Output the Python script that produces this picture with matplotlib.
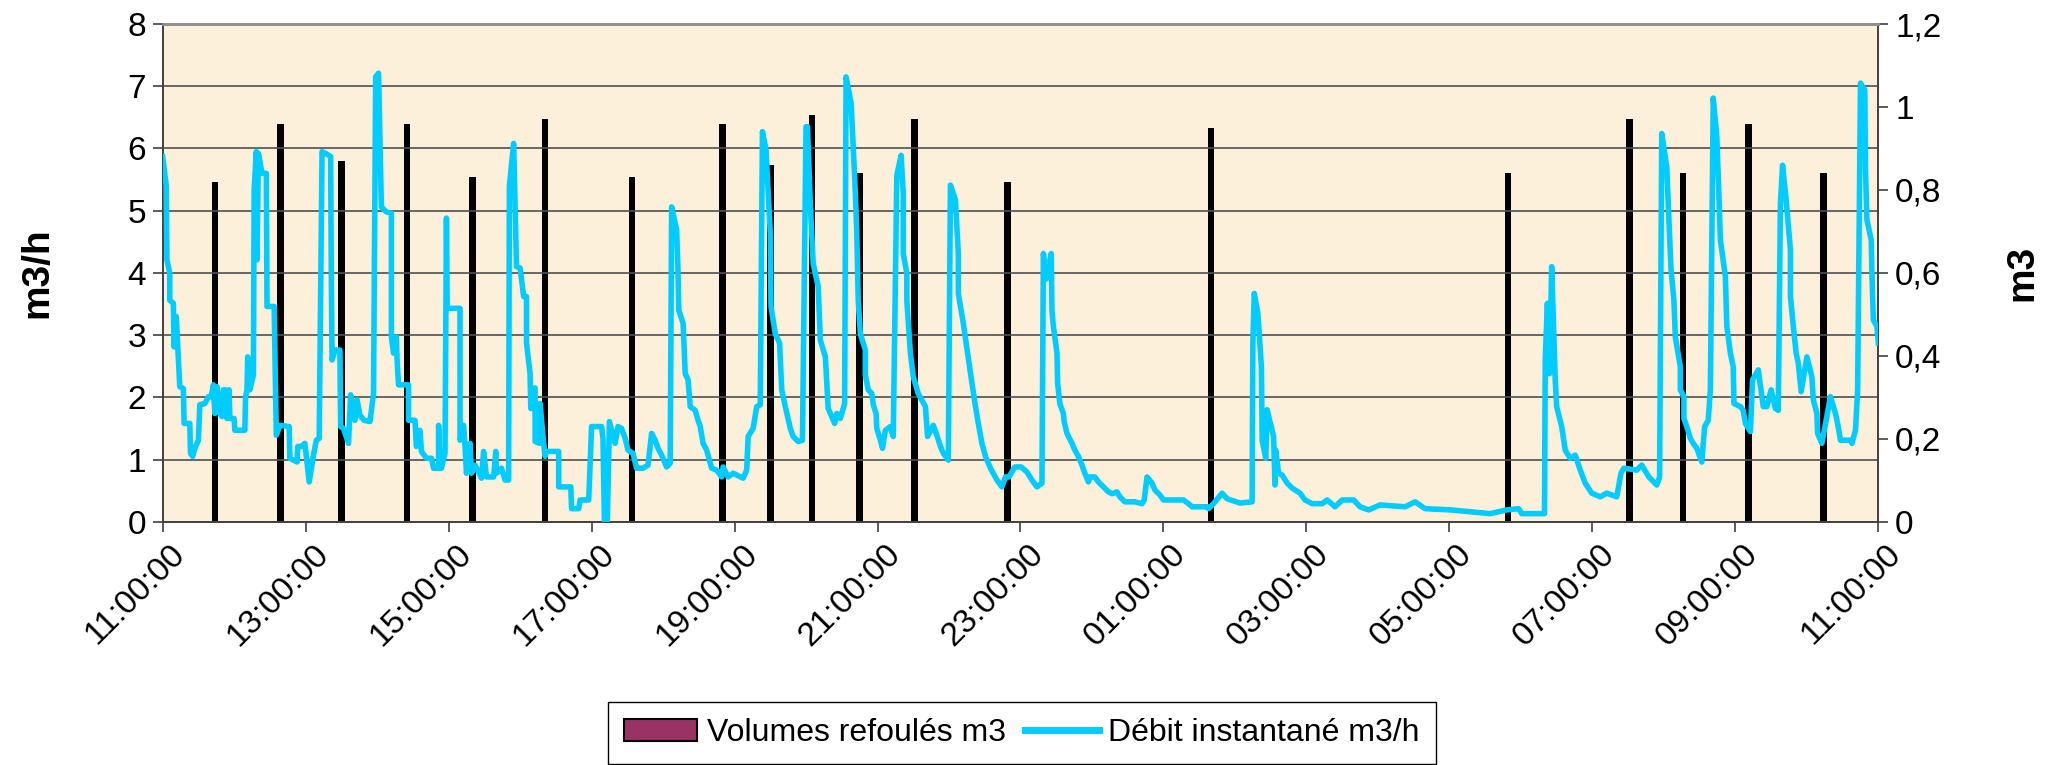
import numpy as np
import pandas as pd
import matplotlib
matplotlib.use('Agg')
import matplotlib.pyplot as plt
import matplotlib.dates as mdates
import matplotlib.transforms as mtransforms
from matplotlib.patches import Patch
from matplotlib.lines import Line2D

# Volumes pumped (m3), one bar per pump cycle
vol_times = ['11:44', '12:39', '13:30', '14:25', '15:20', '16:21', '17:34', '18:50',
             '19:30', '20:05', '20:45', '21:31', '22:49', '01:40', '05:49', '07:31',
             '08:16', '09:11', '10:14']
vol_m3 = [0.82, 0.96, 0.87, 0.96, 0.83, 0.97, 0.83, 0.96,
          0.86, 0.98, 0.84, 0.97, 0.82, 0.95, 0.84, 0.97,
          0.84, 0.96, 0.84]

# Instantaneous flow (m3/h), time in hours after 11:00
debit_t = [
    0.00, 0.05, 0.06, 0.10, 0.10, 0.15, 0.16, 0.19, 0.24, 0.29, 0.30, 0.38, 0.39, 0.42,
    0.45, 0.50, 0.52, 0.59, 0.64, 0.68, 0.71, 0.73, 0.76, 0.80, 0.83, 0.85, 0.88, 0.90,
    0.93, 0.94, 1.00, 1.01, 1.15, 1.16, 1.18, 1.19, 1.22, 1.27, 1.28, 1.31, 1.32, 1.34,
    1.39, 1.45, 1.46, 1.56, 1.59, 1.64, 1.77, 1.78, 1.88, 1.89, 1.94, 1.99, 2.05, 2.11,
    2.15, 2.19, 2.23, 2.28, 2.35, 2.36, 2.37, 2.41, 2.48, 2.49, 2.53, 2.60, 2.63, 2.69,
    2.72, 2.76, 2.82, 2.90, 2.95, 2.98,
    3.02, 3.06, 3.13, 3.20, 3.20, 3.23, 3.27, 3.28, 3.30, 3.44, 3.44, 3.53, 3.55, 3.60,
    3.62, 3.69, 3.76, 3.79, 3.86, 3.86, 3.88, 3.90, 3.95, 3.97, 3.98, 4.16, 4.16, 4.21,
    4.23, 4.25, 4.30, 4.32, 4.37, 4.46, 4.49, 4.53, 4.63, 4.66, 4.67, 4.74, 4.79, 4.84,
    4.85, 4.91, 4.95, 5.00, 5.05, 5.09, 5.09, 5.14, 5.15, 5.16, 5.21, 5.21, 5.27, 5.28,
    5.33, 5.35, 5.37, 5.54, 5.54, 5.71, 5.72, 5.82, 5.84, 5.96,
    6.00, 6.14, 6.16, 6.18, 6.22, 6.25, 6.33, 6.37, 6.42, 6.47, 6.51, 6.58, 6.63, 6.72,
    6.79, 6.84, 6.89, 6.93, 6.98, 7.05, 7.10, 7.12, 7.19, 7.21, 7.22, 7.28, 7.31, 7.35,
    7.38, 7.45, 7.49, 7.52, 7.56, 7.61, 7.68, 7.75, 7.82, 7.84, 7.91, 7.98, 8.12, 8.17,
    8.19, 8.26, 8.31, 8.36, 8.39, 8.44, 8.50, 8.51, 8.57, 8.63, 8.66, 8.71, 8.78, 8.82,
    8.89, 8.95,
    9.00, 9.02, 9.06, 9.10, 9.17, 9.20, 9.27, 9.29, 9.31, 9.36, 9.40, 9.43, 9.48, 9.54,
    9.56, 9.63, 9.66, 9.69, 9.71, 9.73, 9.76, 9.83, 9.83, 9.87, 9.92, 9.94, 9.98, 9.99,
    10.04, 10.07, 10.11, 10.18, 10.22, 10.27, 10.33, 10.36, 10.36, 10.41, 10.41, 10.46,
    10.50, 10.57, 10.67, 10.70, 10.78, 10.83, 10.88, 10.92, 10.99, 11.02, 11.09, 11.13,
    11.13, 11.20, 11.26, 11.30, 11.37, 11.41, 11.46, 11.51, 11.58, 11.67, 11.74, 11.79,
    11.84, 11.92,
    12.01, 12.09, 12.16, 12.23, 12.30, 12.32, 12.36, 12.43, 12.44, 12.46, 12.51, 12.52,
    12.55, 12.60, 12.61, 12.65, 12.72, 12.76, 12.81, 12.86, 12.90, 12.95, 12.97, 13.04,
    13.09, 13.16, 13.23, 13.28, 13.35, 13.39, 13.46, 13.60, 13.70, 13.73, 13.77, 13.84,
    13.88, 13.95, 14.00, 14.28, 14.35, 14.40, 14.61, 14.63, 14.70, 14.82, 14.89,
    15.02, 15.07, 15.24, 15.25, 15.27, 15.32, 15.37, 15.38, 15.43, 15.45, 15.54, 15.56,
    15.57, 15.61, 15.66, 15.73, 15.80, 15.91, 15.98, 16.08, 16.22, 16.29, 16.40, 16.50,
    16.66, 16.75, 16.87, 17.03, 17.38, 17.52, 17.66,
    18.02, 18.57, 18.80, 18.97, 19.01, 19.33, 19.34, 19.37, 19.40, 19.43, 19.48, 19.50,
    19.57, 19.62, 19.69, 19.76, 19.83, 19.90, 19.99, 20.11, 20.20, 20.34, 20.40, 20.44,
    20.62, 20.69, 20.79, 20.90, 20.94, 20.97,
    21.04, 21.07, 21.10, 21.14, 21.16, 21.20, 21.23, 21.23, 21.28, 21.28, 21.32, 21.37,
    21.41, 21.46, 21.53, 21.57, 21.62, 21.65, 21.69, 21.74, 21.77, 21.79, 21.86, 21.88,
    21.93, 21.97, 21.98, 22.07, 22.11, 22.14, 22.21, 22.24, 22.32, 22.39, 22.44, 22.50,
    22.56, 22.60, 22.63, 22.66, 22.71, 22.77, 22.77, 22.81, 22.85, 22.88, 22.92, 23.00,
    23.07, 23.09, 23.14, 23.15, 23.21, 23.33, 23.40, 23.43, 23.47, 23.61, 23.63, 23.68,
    23.71, 23.75, 23.81, 23.82, 23.84, 23.90, 23.91, 23.93, 23.98, 24.00,
]
debit_v = [
    5.87, 5.41, 4.21, 3.99, 3.56, 3.51, 2.81, 3.30, 2.17, 2.14, 1.58, 1.58, 1.10, 1.05,
    1.18, 1.31, 1.88, 1.90, 2.01, 2.01, 2.20, 1.74, 2.17, 1.74, 1.69, 2.12, 2.12, 1.66,
    2.12, 1.66, 1.66, 1.47, 1.47, 2.01, 2.12, 2.65, 2.12, 2.36, 5.33, 5.95, 4.21, 5.92,
    5.60, 5.60, 3.46, 3.46, 1.39, 1.55, 1.53, 1.02, 0.96, 1.21, 1.21, 1.26, 0.64, 1.07,
    1.31, 1.34, 5.95, 5.92, 5.87, 3.94, 2.60, 2.76, 2.76, 1.53, 1.50, 1.26, 2.04, 1.63,
    1.96, 1.71, 1.63, 1.61, 2.06, 7.15,
    7.21, 5.06, 4.98, 4.96, 2.97, 2.71, 2.97, 2.58, 2.20, 2.20, 1.63, 1.63, 1.21, 1.47,
    1.13, 1.02, 1.02, 0.86, 0.86, 1.55, 0.86, 0.86, 1.10, 4.88, 3.43, 3.43, 1.31, 1.55,
    1.21, 0.78, 1.26, 0.78, 0.91, 0.70, 1.13, 0.72, 0.72, 1.13, 0.78, 0.86, 0.67, 0.67,
    5.39, 6.08, 4.10, 4.08, 3.62, 3.62, 2.87, 2.38, 1.82, 2.12, 2.15, 1.29, 1.26, 1.90,
    1.26, 1.05, 1.13, 1.13, 0.56, 0.56, 0.21, 0.21, 0.35, 0.35,
    1.53, 1.53, 1.34, 0.00, 0.00, 1.61, 1.26, 1.53, 1.50, 1.34, 1.15, 1.10, 0.86, 0.86,
    0.91, 1.42, 1.31, 1.18, 1.07, 0.88, 0.94, 5.06, 4.69, 3.99, 3.40, 3.19, 2.38, 2.28,
    1.85, 1.79, 1.63, 1.53, 1.26, 1.15, 0.86, 0.83, 0.72, 0.88, 0.72, 0.78, 0.70, 0.83,
    1.37, 1.50, 1.85, 1.88, 6.27, 5.98, 4.64, 3.46, 3.02, 2.87, 2.12, 1.85, 1.50, 1.37,
    1.29, 1.31,
    6.35, 6.35, 5.11, 4.15, 3.78, 2.92, 2.65, 2.22, 1.82, 1.69, 1.58, 1.74, 1.66, 1.90,
    7.15, 6.73, 6.03, 5.28, 4.64, 3.56, 3.02, 2.76, 2.36, 2.12, 2.06, 1.88, 1.74, 1.50,
    1.31, 1.18, 1.47, 1.53, 1.37, 5.57, 5.89, 5.28, 4.31, 3.99, 3.56, 2.71,
    2.33, 2.06, 1.85, 1.37, 1.55, 1.39, 1.21, 1.10, 0.99, 5.41, 5.17, 4.31,
    3.67, 3.19, 2.71, 2.39, 1.85, 1.58, 1.26, 1.05, 0.86, 0.67, 0.56, 0.72,
    0.72, 0.88,
    0.88, 0.80, 0.67, 0.56, 0.62, 4.31, 3.90, 4.31, 3.40, 3.14, 2.71, 2.22,
    1.90, 1.74, 1.61, 1.42, 1.26, 1.15, 1.05, 0.91, 0.78, 0.64, 0.72, 0.72,
    0.64, 0.56, 0.48, 0.45, 0.48, 0.40, 0.32, 0.32, 0.29, 0.35, 0.72, 0.62,
    0.51, 0.43, 0.35, 0.35, 0.29, 0.24, 0.24, 0.21, 0.29, 0.46, 0.37,
    0.32, 0.30, 0.32, 2.87, 3.67, 3.35, 2.49, 1.31, 1.02, 1.80, 1.37, 0.59,
    1.15, 0.78, 0.75, 0.62, 0.54, 0.46, 0.35, 0.29, 0.29, 0.35, 0.24, 0.35,
    0.35, 0.24, 0.19, 0.27, 0.24, 0.32, 0.21,
    0.19, 0.13, 0.19, 0.21, 0.13, 0.13, 2.60, 3.51, 2.38, 4.10, 2.28, 1.85,
    1.53, 1.15, 1.02, 1.07, 0.83, 0.62, 0.46, 0.40, 0.46, 0.40, 0.78, 0.86,
    0.83, 0.91, 0.72, 0.59, 0.72, 6.24,
    5.70, 4.85, 4.05, 3.56, 2.97, 2.70, 2.49, 2.12, 2.01, 1.66, 1.53, 1.34,
    1.26, 1.18, 0.96, 1.53, 1.63, 2.12, 6.81, 6.19, 5.23, 4.53, 3.94, 3.14,
    2.71, 2.49, 1.90, 1.85, 1.79, 1.58, 1.45, 2.28, 2.44, 1.85, 1.85, 2.12,
    1.82, 1.79, 5.12, 5.73, 5.17, 4.37, 3.62, 3.14, 2.71, 2.55, 2.09, 2.65,
    2.33, 1.96, 1.74, 1.42, 1.26, 2.01, 1.74, 1.58, 1.31, 1.31, 1.26, 1.47,
    2.12, 7.05, 6.94, 5.65, 4.85, 4.53, 3.99, 3.24, 3.14, 2.87,
]

y_left_ticks = [0, 1, 2, 3, 4, 5, 6, 7, 8]
y_right_ticks = [0, 0.2, 0.4, 0.6, 0.8, 1.0, 1.2]


def main():
    plt.rcParams['font.family'] = ['Liberation Sans', 'DejaVu Sans']

    start = pd.Timestamp('2000-01-01 11:00')
    end = start + pd.Timedelta(hours=24)

    line_x = start + pd.to_timedelta(np.array(debit_t), unit='h')

    bar_x = []
    for t in vol_times:
        ts = pd.Timestamp('2000-01-01 ' + t)
        if ts < start:
            ts += pd.Timedelta(days=1)
        bar_x.append(ts)

    fig = plt.figure(figsize=(20.56, 7.65), dpi=100)
    ax = fig.add_axes([0.0791, 0.318, 0.8345, 0.6506])
    ax2 = ax.twinx()

    # line above bars: put left axes on top, background on the twin
    ax.set_zorder(ax2.get_zorder() + 1)
    ax.patch.set_visible(False)
    ax2.patch.set_visible(True)
    ax2.patch.set_facecolor('#FCF0DA')

    bar_w = 5.5 / (24 * 60)  # bar width in days
    ax2.bar(mdates.date2num(bar_x), vol_m3, width=bar_w, color='black', zorder=2)
    ax2.set_ylim(0, 1.2)
    ax2.set_yticks(y_right_ticks)
    ax2.set_yticklabels([('%g' % v).replace('.', ',') for v in y_right_ticks])
    ax2.set_ylabel('m3', fontsize=28, fontweight='bold', labelpad=45)

    ax.plot(line_x, debit_v, color='#00CCFF', lw=4, solid_joinstyle='round', zorder=3)
    ax.set_ylim(0, 8)
    ax.set_yticks(y_left_ticks)
    ax.set_xlim(start, end)
    ax.set_ylabel('m3/h', fontsize=28, fontweight='bold', labelpad=52)
    ax.yaxis.grid(True, color='#505050', lw=1.2)
    ax.set_axisbelow(True)

    ax.xaxis.set_major_locator(mdates.HourLocator(byhour=range(1, 24, 2)))
    ax.xaxis.set_major_formatter(mdates.DateFormatter('%H:%M:%S'))

    for a in (ax, ax2):
        a.tick_params(labelsize=24, length=7, width=1.2, color='#404040', pad=5)
        for s in a.spines.values():
            s.set_color('#404040')
            s.set_linewidth(1.2)
    ax.spines['top'].set_color('#909090')
    ax2.spines['top'].set_color('#909090')
    ax.spines['top'].set_linewidth(2)
    ax2.spines['top'].set_linewidth(2)

    shift = mtransforms.ScaledTranslation(0.07, 0.0, fig.dpi_scale_trans)
    for lab in ax.get_xticklabels():
        lab.set_rotation(45)
        lab.set_ha('right')
        lab.set_va('top')
        lab.set_rotation_mode('anchor')
        lab.set_transform(lab.get_transform() + shift)

    handles = [Patch(facecolor='#993366', edgecolor='black', lw=1.5),
               Line2D([], [], color='#00CCFF', lw=5)]
    fig.legend(handles, ['Volumes refoulés m3', 'Débit instantané m3/h'],
               loc='upper center', bbox_to_anchor=(0.497, 1 - 702 / 765),
               borderaxespad=0, ncol=2, fontsize=23, frameon=True, fancybox=False,
               edgecolor='black', handlelength=2.3, handletextpad=0.3,
               columnspacing=0.6, borderpad=0.5, framealpha=1)

    fig.savefig('out.png', dpi=100)


if __name__ == '__main__':
    main()
